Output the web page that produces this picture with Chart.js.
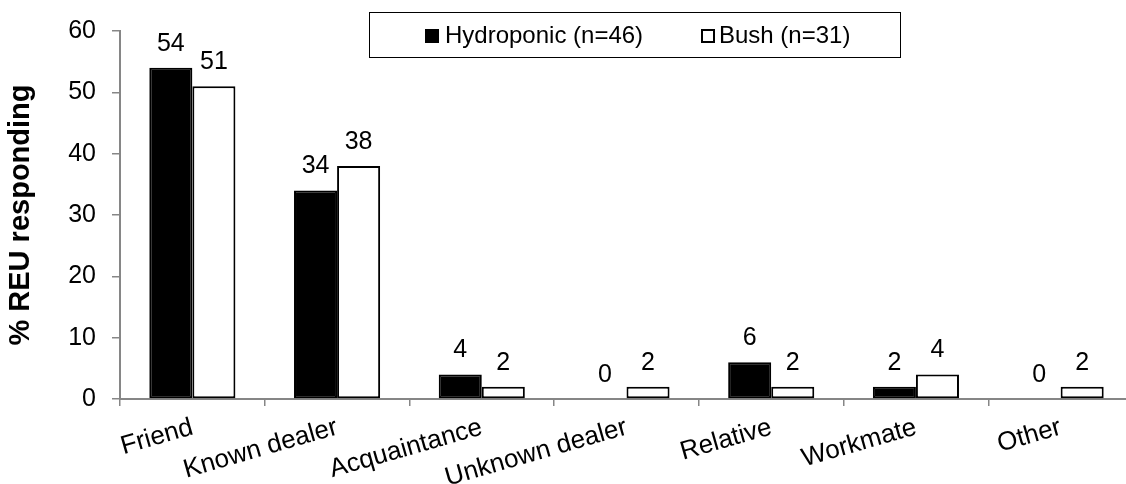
<!DOCTYPE html>
<html>
<head>
<meta charset="utf-8">
<title>Source of cannabis by type</title>
<script src="https://cdn.jsdelivr.net/npm/chart.js@4.4.1/dist/chart.umd.min.js"></script>
<style>
  html, body { margin: 0; padding: 0; background: #fff; overflow: hidden; }
  #wrap { position: relative; width: 1133px; height: 484px; }
</style>
</head>
<body>
<div id="wrap"><canvas id="chart"></canvas></div>
<script>
// ── data ───────────────────────────────────────────────────────────
const categories = ["Friend", "Known dealer", "Acquaintance", "Unknown dealer", "Relative", "Workmate", "Other"];
const hydroponic = [54, 34, 4, 0, 6, 2, 0];
const bush = [51, 38, 2, 2, 2, 4, 2];
const seriesNames = ["Hydroponic (n=46)", "Bush (n=31)"];
const yTicks = [0, 10, 20, 30, 40, 50, 60];
const yTitle = "% REU responding";

const FONT = "'Liberation Sans', Arial, Helvetica, sans-serif";
const AXIS = "#868686";

// ── value labels above each bar ────────────────────────────────────
const barValues = {
  id: "barValues",
  afterDatasetsDraw(chart) {
    const ctx = chart.ctx;
    ctx.save();
    ctx.font = "25px " + FONT;
    ctx.fillStyle = "#000";
    ctx.textAlign = "center";
    ctx.textBaseline = "alphabetic";
    chart.data.datasets.forEach((ds, i) => {
      chart.getDatasetMeta(i).data.forEach((bar, j) => {
        ctx.fillText(String(ds.data[j]), bar.x, bar.y - 17);
      });
    });
    ctx.restore();
  },
};

// ── framed legend inside the plot ──────────────────────────────────
const boxLegend = {
  id: "boxLegend",
  afterDraw(chart) {
    const ctx = chart.ctx;
    ctx.save();
    ctx.strokeStyle = "#000";
    ctx.lineWidth = 1;
    ctx.fillStyle = "#fff";
    ctx.fillRect(369.5, 12.5, 531, 45);
    ctx.strokeRect(369.5, 12.5, 531, 45);
    ctx.font = "24px " + FONT;
    ctx.textBaseline = "alphabetic";
    ctx.textAlign = "left";
    const items = [[425, 445], [701, 719]];
    chart.data.datasets.forEach((ds, i) => {
      const [sx, tx] = items[i];
      ctx.fillStyle = ds.backgroundColor;
      ctx.fillRect(sx, 29, 14, 14);
      ctx.lineWidth = 2;
      ctx.strokeStyle = "#000";
      ctx.strokeRect(sx + 1, 30, 12, 12);
      ctx.fillStyle = "#000";
      ctx.fillText(ds.label, tx, 43);
    });
    ctx.restore();
  },
};

const bw = (c) => (c.raw === 0 ? 0 : 2);

new Chart(document.getElementById("chart"), {
  type: "bar",
  data: {
    labels: categories,
    datasets: [
      { label: seriesNames[0], data: hydroponic, backgroundColor: "#000", borderColor: "#000", borderWidth: bw, borderSkipped: false },
      { label: seriesNames[1], data: bush, backgroundColor: "#fff", borderColor: "#000", borderWidth: bw, borderSkipped: false },
    ],
  },
  options: {
    responsive: true,
    maintainAspectRatio: false,
    animation: false,
    events: [],
    layout: { padding: { top: 23.5, left: 0, right: 0, bottom: 0 } },
    datasets: { bar: { categoryPercentage: 0.595, barPercentage: 1 } },
    plugins: { legend: { display: false }, tooltip: { enabled: false } },
    scales: {
      x: {
        offset: true,
        grid: { display: true, drawOnChartArea: false, drawTicks: true, tickLength: 7, color: AXIS, lineWidth: 1.5, offset: true },
        border: { color: AXIS, width: 2 },
        ticks: { color: "#000", font: { family: FONT, size: 26 }, minRotation: 16, maxRotation: 16, padding: 6, autoSkip: false },
        afterFit: (s) => { s.height = 85; },
      },
      y: {
        min: 0,
        max: 60,
        afterBuildTicks: (s) => { s.ticks = yTicks.map((v) => ({ value: v })); },
        grid: { display: true, drawOnChartArea: false, drawTicks: true, tickLength: 8, color: AXIS, lineWidth: 1.5 },
        border: { color: AXIS, width: 2 },
        ticks: { color: "#000", font: { family: FONT, size: 25 }, padding: 16 },
        title: { display: true, text: yTitle, color: "#000", font: { family: FONT, size: 29, weight: "bold" }, padding: { top: 4, bottom: 0 } },
        afterFit: (s) => { s.width = 120; },
      },
    },
  },
  plugins: [barValues, boxLegend],
});
</script>
</body>
</html>
